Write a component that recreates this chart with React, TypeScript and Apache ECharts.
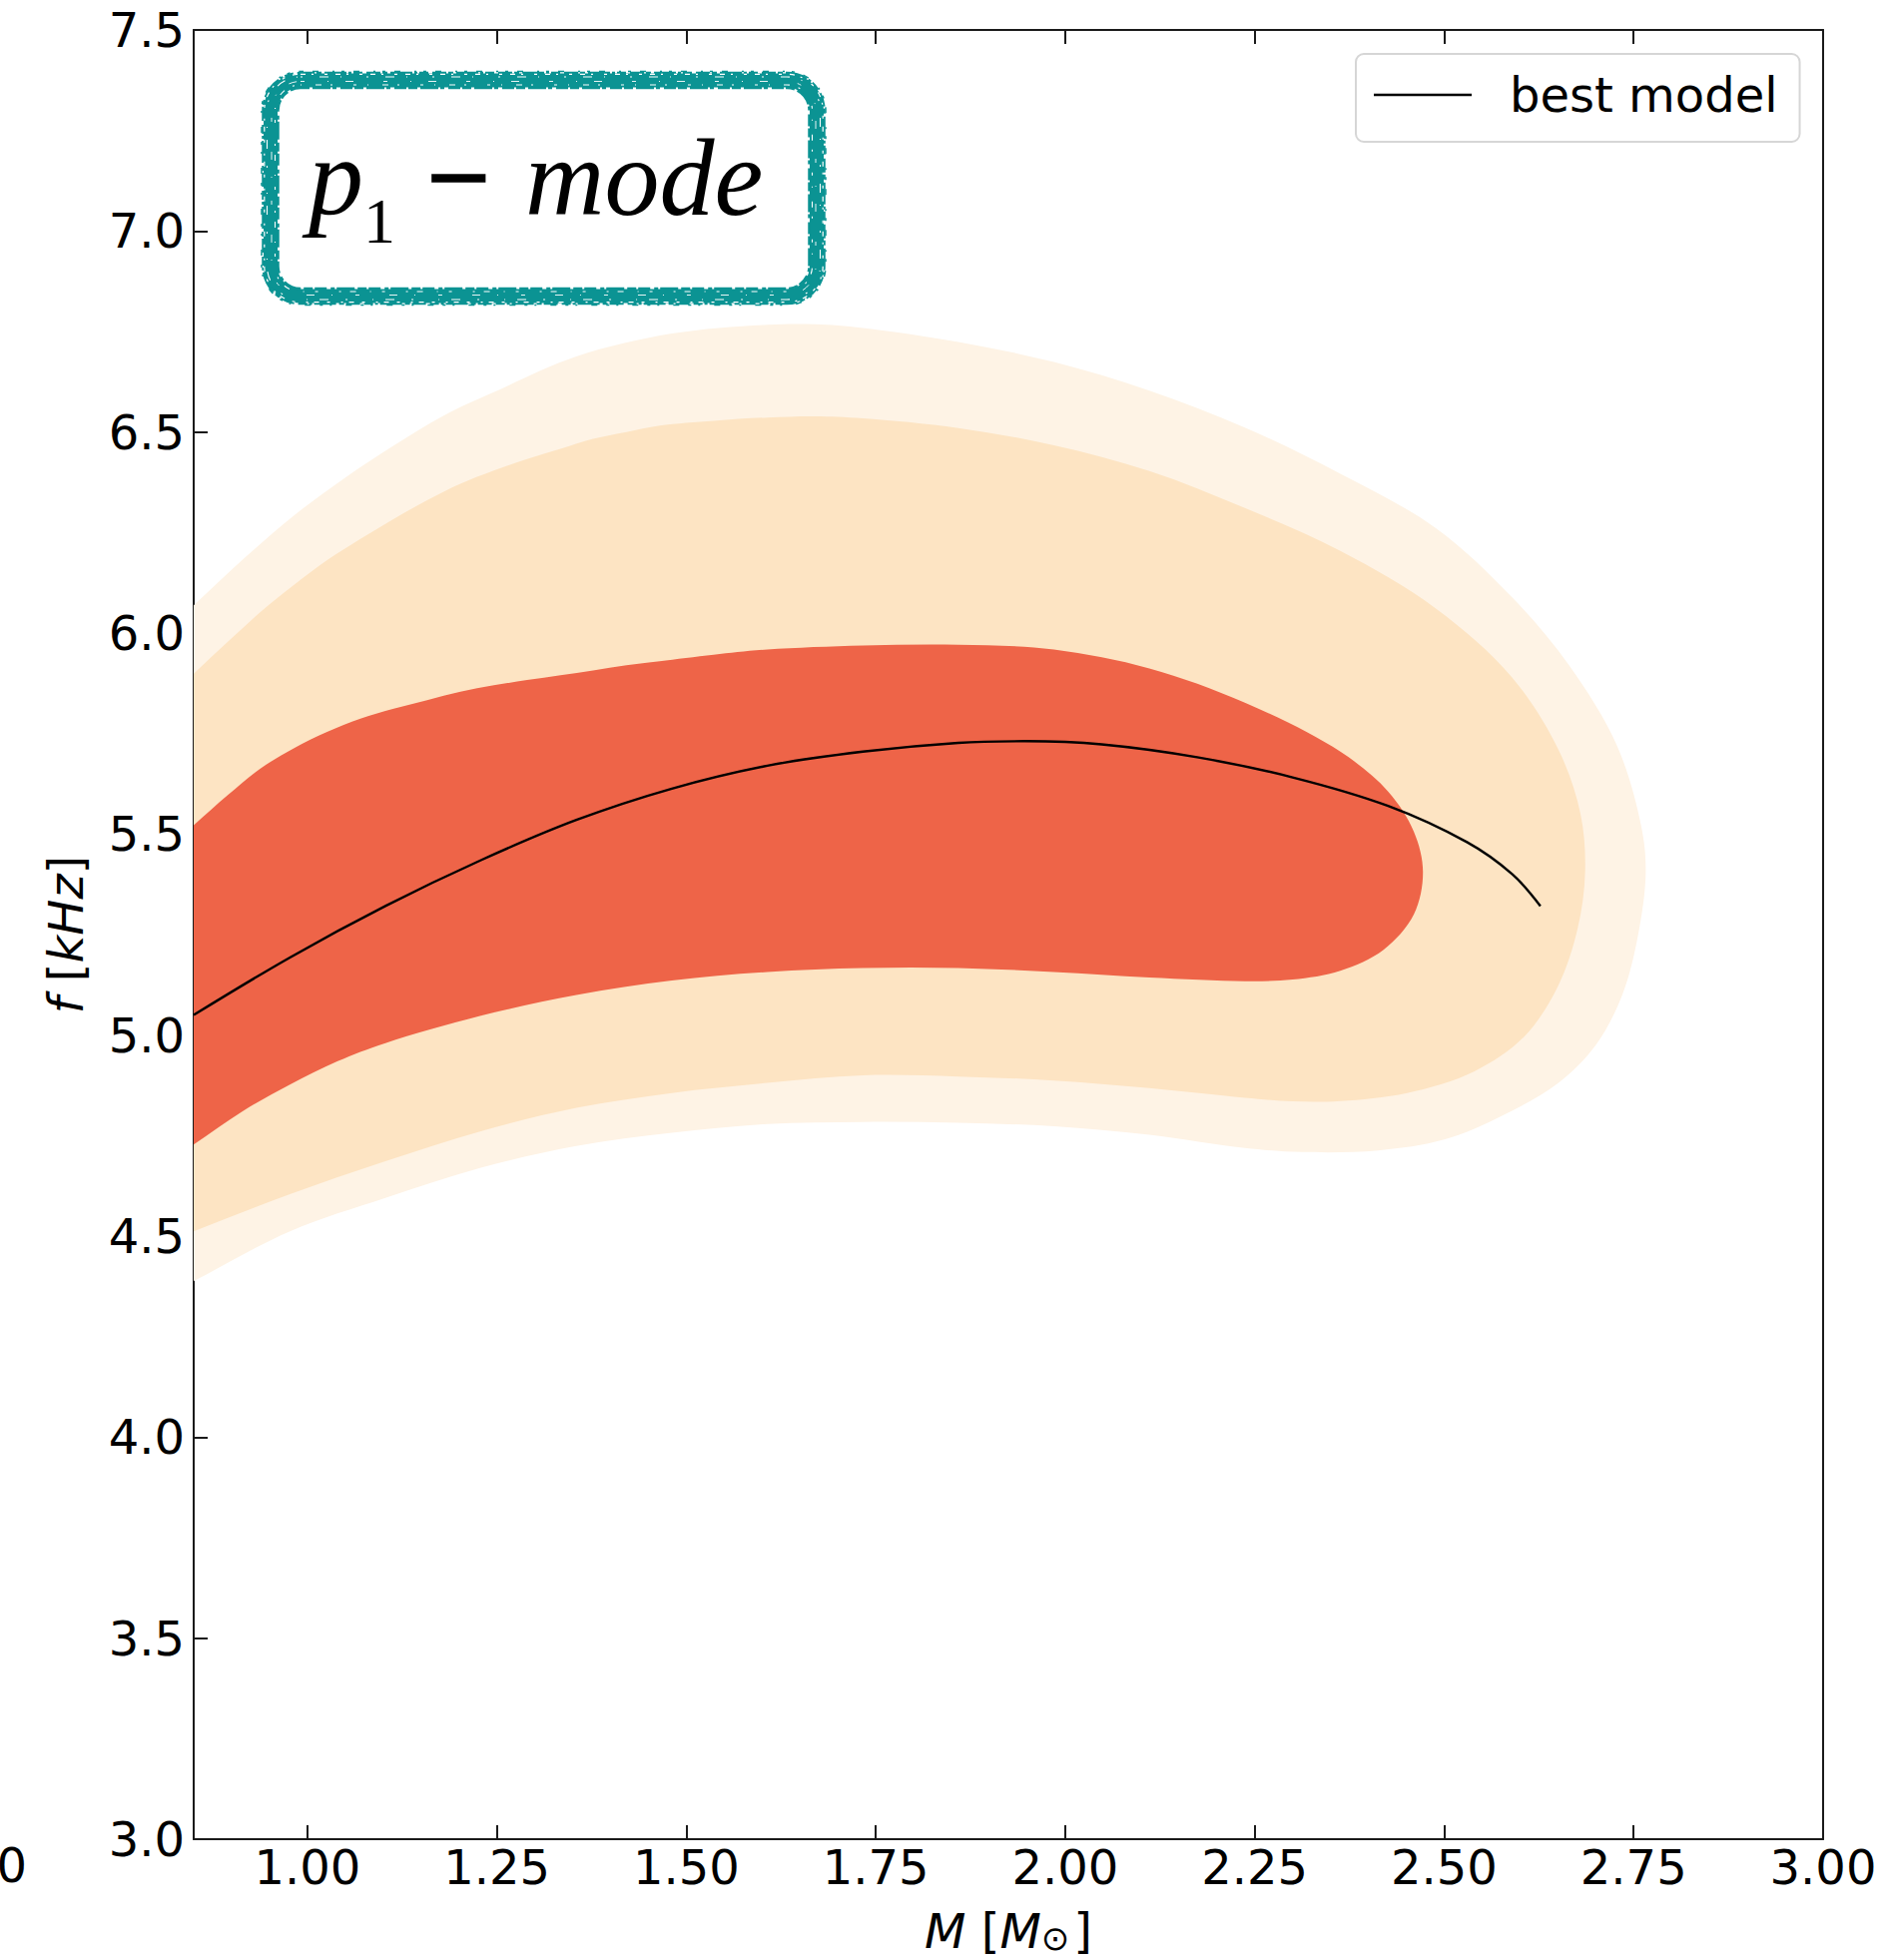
import React, { useEffect, useRef } from 'react';
import * as echarts from 'echarts';

// Axis ranges
const X_MIN = 0.85;
const X_MAX = 3.0;
const Y_MIN = 3.0;
const Y_MAX = 7.5;
const Y_STEP = 0.5;

// Tick positions on the mass axis
const xTickValues = [1.0, 1.25, 1.5, 1.75, 2.0, 2.25, 2.5, 2.75, 3.0];

const lineName = 'best model';

// Credible-region boundaries [M, f]; each runs from the upper-left edge,
// around the right side and back to the lower-left edge.
const outerContour: number[][] = [
  [0.85, 6.069], [0.916, 6.185], [0.982, 6.292], [1.048, 6.384], [1.114, 6.466],
  [1.180, 6.541], [1.246, 6.599], [1.355, 6.688],
  [1.481, 6.745], [1.607, 6.767], [1.670, 6.768], [1.733, 6.759], [1.859, 6.724],
  [1.985, 6.674], [2.111, 6.603], [2.237, 6.511], [2.363, 6.396], [2.489, 6.261],
  [2.589, 6.090], [2.665, 5.919], [2.728, 5.720], [2.760, 5.520], [2.766, 5.406],
  [2.756, 5.250], [2.735, 5.100], [2.700, 4.975], [2.650, 4.880],
  [2.577, 4.800], [2.500, 4.740], [2.413, 4.713], [2.312, 4.709],
  [2.237, 4.719], [2.111, 4.752], [1.985, 4.773], [1.859, 4.782],
  [1.733, 4.784], [1.607, 4.779], [1.481, 4.757], [1.355, 4.724], [1.229, 4.670],
  [1.103, 4.595], [0.977, 4.512], [0.85, 4.388],
];

const middleContour: number[][] = [
  [0.85, 5.899], [0.895, 5.978], [0.938, 6.052], [0.982, 6.119], [1.026, 6.181],
  [1.070, 6.234], [1.114, 6.284], [1.158, 6.330], [1.202, 6.371], [1.246, 6.404],
  [1.290, 6.433], [1.334, 6.458], [1.377, 6.483], [1.421, 6.500], [1.465, 6.516],
  [1.536, 6.528], [1.607, 6.536], [1.670, 6.539], [1.733, 6.534],
  [1.859, 6.510], [1.985, 6.467], [2.111, 6.403], [2.237, 6.311], [2.363, 6.204],
  [2.489, 6.061], [2.589, 5.891], [2.652, 5.705], [2.680, 5.549], [2.686, 5.406],
  [2.676, 5.264], [2.650, 5.121], [2.605, 4.995], [2.540, 4.910],
  [2.451, 4.856], [2.363, 4.836], [2.300, 4.835], [2.237, 4.844],
  [2.111, 4.868], [1.985, 4.887], [1.859, 4.897], [1.733, 4.900],
  [1.607, 4.881], [1.481, 4.856], [1.355, 4.819], [1.229, 4.761], [1.103, 4.686],
  [0.977, 4.604], [0.85, 4.512],
];

const innerContour: number[][] = [
  [0.85, 5.522], [0.895, 5.597], [0.938, 5.663], [0.982, 5.713], [1.026, 5.754],
  [1.070, 5.787], [1.114, 5.812], [1.158, 5.833], [1.202, 5.854], [1.246, 5.870],
  [1.290, 5.883], [1.334, 5.895], [1.377, 5.907], [1.421, 5.920], [1.465, 5.930],
  [1.536, 5.946], [1.607, 5.959], [1.733, 5.969],
  [1.859, 5.971], [1.985, 5.959], [2.111, 5.912],
  [2.237, 5.827], [2.363, 5.705], [2.426, 5.606],
  [2.460, 5.506], [2.472, 5.406], [2.460, 5.300], [2.420, 5.212],
  [2.363, 5.160], [2.300, 5.138], [2.237, 5.134], [2.111, 5.143], [1.985, 5.157],
  [1.859, 5.167], [1.733, 5.167], [1.607, 5.157], [1.481, 5.136], [1.355, 5.100],
  [1.229, 5.048], [1.103, 4.980], [1.040, 4.935], [0.977, 4.877],
  [0.914, 4.810], [0.85, 4.728],
];

// Best-fit relation f(M)
const bestModel: number[][] = [
  [0.85, 5.050], [0.977, 5.193], [1.103, 5.321], [1.229, 5.435], [1.355, 5.535],
  [1.481, 5.613], [1.607, 5.670], [1.733, 5.705], [1.859, 5.727], [1.947, 5.731],
  [2.048, 5.723], [2.174, 5.691], [2.300, 5.641], [2.426, 5.570],
  [2.530, 5.480], [2.590, 5.400], [2.627, 5.321],
];

const levelColors = ['#fef3e5', '#fde4c3', '#ee6448'];
const TEAL = '#0b9393';
const AXIS_COLOR = '#1a1a1a';
const SANS = '"DejaVu Sans", sans-serif';
const SERIF = '"Liberation Serif", serif';

// Centripetal Catmull-Rom spline through pixel points; the path is closed
// with a straight edge (which lies along the left axis).
function splinePath(pts: number[][], close: boolean): string {
  const dist = (a: number[], b: number[]) => Math.sqrt(Math.hypot(b[0] - a[0], b[1] - a[1]));
  let d = `M${pts[0][0]},${pts[0][1]}`;
  for (let i = 0; i < pts.length - 1; i++) {
    const p1 = pts[i];
    const p2 = pts[i + 1];
    const p0 = pts[i - 1] || [2 * p1[0] - p2[0], 2 * p1[1] - p2[1]];
    const p3 = pts[i + 2] || [2 * p2[0] - p1[0], 2 * p2[1] - p1[1]];
    const d1 = dist(p0, p1);
    const d2 = dist(p1, p2);
    const d3 = dist(p2, p3);
    const a = 2 * d1 * d1 + 3 * d1 * d2 + d2 * d2;
    const n = 3 * d1 * (d1 + d2);
    const b = 2 * d3 * d3 + 3 * d3 * d2 + d2 * d2;
    const m = 3 * d3 * (d3 + d2);
    const c1 = n > 1e-9
      ? [(d1 * d1 * p2[0] - d2 * d2 * p0[0] + a * p1[0]) / n, (d1 * d1 * p2[1] - d2 * d2 * p0[1] + a * p1[1]) / n]
      : p1;
    const c2 = m > 1e-9
      ? [(d3 * d3 * p1[0] - d2 * d2 * p3[0] + b * p2[0]) / m, (d3 * d3 * p1[1] - d2 * d2 * p3[1] + b * p2[1]) / m]
      : p2;
    d += ` C${c1[0]},${c1[1]} ${c2[0]},${c2[1]} ${p2[0]},${p2[1]}`;
  }
  return close ? d + ' Z' : d;
}

function contourSeries(name: string, pts: number[][], color: string) {
  return {
    type: 'custom',
    name,
    data: pts,
    encode: { x: 0, y: 1 },
    clip: true,
    silent: true,
    renderItem: (params: any, api: any) => {
      if (params.dataIndex !== 0) return null;
      const px = pts.map((p) => api.coord(p));
      return {
        type: 'path',
        shape: { pathData: splinePath(px, true) },
        style: { fill: color, stroke: null },
      };
    },
  };
}

// Hand-drawn looking frame around the panel title
function roughFrame() {
  const base = { x: 271, y: 80.5, width: 547, height: 216, r: 30 };
  const grow = (g: number) => ({
    x: base.x - g,
    y: base.y - g,
    width: base.width + 2 * g,
    height: base.height + 2 * g,
    r: Math.max(2, base.r + g),
  });
  const stroke = (g: number, color: string, lineWidth: number, lineDash: number[] | null, z = 100) => ({
    type: 'rect',
    shape: grow(g),
    silent: true,
    z,
    style: { fill: null, stroke: color, lineWidth, lineDash: lineDash || undefined },
  });
  return [
    stroke(0, TEAL, 14, null),
    stroke(7.5, TEAL, 2.5, [14, 2, 5, 3, 22, 2, 3, 2, 9, 4]),
    stroke(-7.5, TEAL, 2.5, [9, 3, 18, 2, 4, 4, 12, 2]),
    stroke(9, TEAL, 1.5, [3, 9, 6, 14, 2, 7]),
    stroke(-4.5, '#ffffff', 1.1, [1, 14, 6, 9, 2, 21, 3, 11], 101),
    stroke(-1, '#ffffff', 0.9, [4, 23, 1, 17, 8, 30], 101),
    stroke(3.5, '#ffffff', 1.1, [2, 17, 9, 12, 1, 25], 101),
    stroke(6.2, '#ffffff', 1.2, [5, 6, 2, 11, 3, 8], 101),
  ];
}

function textEl(text: string, x: number, y: number, font: string, extra: any = {}) {
  return {
    type: 'text',
    x,
    y,
    z: 102,
    silent: true,
    style: {
      text,
      font,
      fill: '#000',
      align: 'left',
      verticalAlign: 'middle',
      textAlign: 'left',
      textVerticalAlign: 'middle',
      ...extra,
    },
  };
}

export default function App() {
  const ref = useRef<HTMLDivElement>(null);

  useEffect(() => {
    if (!ref.current) return;
    const chart = echarts.init(ref.current, undefined, { renderer: 'svg' });

    const axisLine = { show: true, lineStyle: { color: AXIS_COLOR, width: 2 } };
    const tick = { show: true, inside: true, length: 14, lineStyle: { color: AXIS_COLOR, width: 2 } };

    chart.setOption({
      animation: false,
      backgroundColor: '#ffffff',
      grid: { left: 194, right: 65, top: 30, bottom: 120, containLabel: false },
      legend: {
        data: [{ name: lineName, icon: 'rect' }],
        left: 1358,
        top: 54,
        padding: [13, 22, 19, 18],
        backgroundColor: '#ffffff',
        borderColor: '#d6d6d6',
        borderWidth: 2,
        borderRadius: 8,
        itemWidth: 98,
        itemHeight: 2.4,
        selectedMode: false,
        textStyle: { fontSize: 48, fontFamily: SANS, color: '#000', lineHeight: 56, padding: [0, 0, 0, 33] },
      },
      xAxis: [
        {
          type: 'value',
          position: 'bottom',
          min: X_MIN,
          max: X_MAX,
          axisLine,
          axisTick: { ...tick, customValues: xTickValues },
          axisLabel: {
            customValues: xTickValues,
            formatter: (v: number) => v.toFixed(2),
            fontSize: 48,
            fontFamily: SANS,
            color: '#000',
            margin: 4,
            lineHeight: 48,
          },
          splitLine: { show: false },
          name: '{i|M} [{i|M}{s|⊙}]',
          nameLocation: 'middle',
          nameGap: 68,
          nameTextStyle: {
            fontSize: 48,
            fontFamily: SANS,
            color: '#000',
            lineHeight: 48,
            rich: {
              i: { fontSize: 48, fontFamily: SANS, fontStyle: 'italic', color: '#000', lineHeight: 48 },
              s: { fontSize: 34, fontFamily: SANS, color: '#000', lineHeight: 48, verticalAlign: 'bottom', padding: [14, 4, 0, 0] },
            },
          },
        },
        {
          type: 'value',
          position: 'top',
          min: X_MIN,
          max: X_MAX,
          axisLine,
          axisTick: { ...tick, customValues: xTickValues },
          axisLabel: { show: false },
          splitLine: { show: false },
        },
      ],
      yAxis: [
        {
          type: 'value',
          position: 'left',
          min: Y_MIN,
          max: Y_MAX,
          interval: Y_STEP,
          axisLine,
          axisTick: tick,
          axisLabel: {
            formatter: (v: number) => v.toFixed(1),
            fontSize: 48,
            fontFamily: SANS,
            color: '#000',
            margin: 9,
          },
          splitLine: { show: false },
          name: '{i|f} [{i|kHz}]',
          nameLocation: 'middle',
          nameGap: 104,
          nameRotate: 90,
          nameTextStyle: {
            fontSize: 48,
            fontFamily: SANS,
            color: '#000',
            lineHeight: 48,
            rich: {
              i: { fontSize: 48, fontFamily: SANS, fontStyle: 'italic', color: '#000', lineHeight: 48 },
            },
          },
        },
        {
          type: 'value',
          position: 'right',
          min: Y_MIN,
          max: Y_MAX,
          interval: Y_STEP,
          axisLine,
          axisTick: { show: false },
          axisLabel: { show: false },
          splitLine: { show: false },
        },
      ],
      series: [
        contourSeries('95%', outerContour, levelColors[0]),
        contourSeries('90%', middleContour, levelColors[1]),
        contourSeries('68%', innerContour, levelColors[2]),
        {
          type: 'line',
          name: lineName,
          data: bestModel,
          smooth: 0.35,
          symbol: 'none',
          silent: true,
          z: 5,
          lineStyle: { color: '#000', width: 2.4 },
          itemStyle: { color: '#000' },
        },
      ],
      graphic: [
        ...roughFrame(),
        textEl('p', 309, 178, `italic 110px ${SERIF}`),
        textEl('1', 364, 221, `64px ${SERIF}`),
        textEl('−', 428, 178, `110px ${SERIF}`, { stroke: '#000', lineWidth: 3 }),
        textEl('mode', 526, 178, `italic 110px ${SERIF}`),
        // Right end of the neighbouring panel's last tick label
        {
          type: 'text',
          x: 27,
          y: 1868,
          silent: true,
          style: {
            text: '3.00',
            font: `48px ${SANS}`,
            fill: '#000',
            align: 'right',
            verticalAlign: 'middle',
            textAlign: 'right',
            textVerticalAlign: 'middle',
          },
        },
      ],
    });

    return () => chart.dispose();
  }, []);

  return (
    <div
      ref={ref}
      style={{ position: 'absolute', left: 0, top: 0, width: 1891, height: 1963, background: '#fff' }}
    />
  );
}
